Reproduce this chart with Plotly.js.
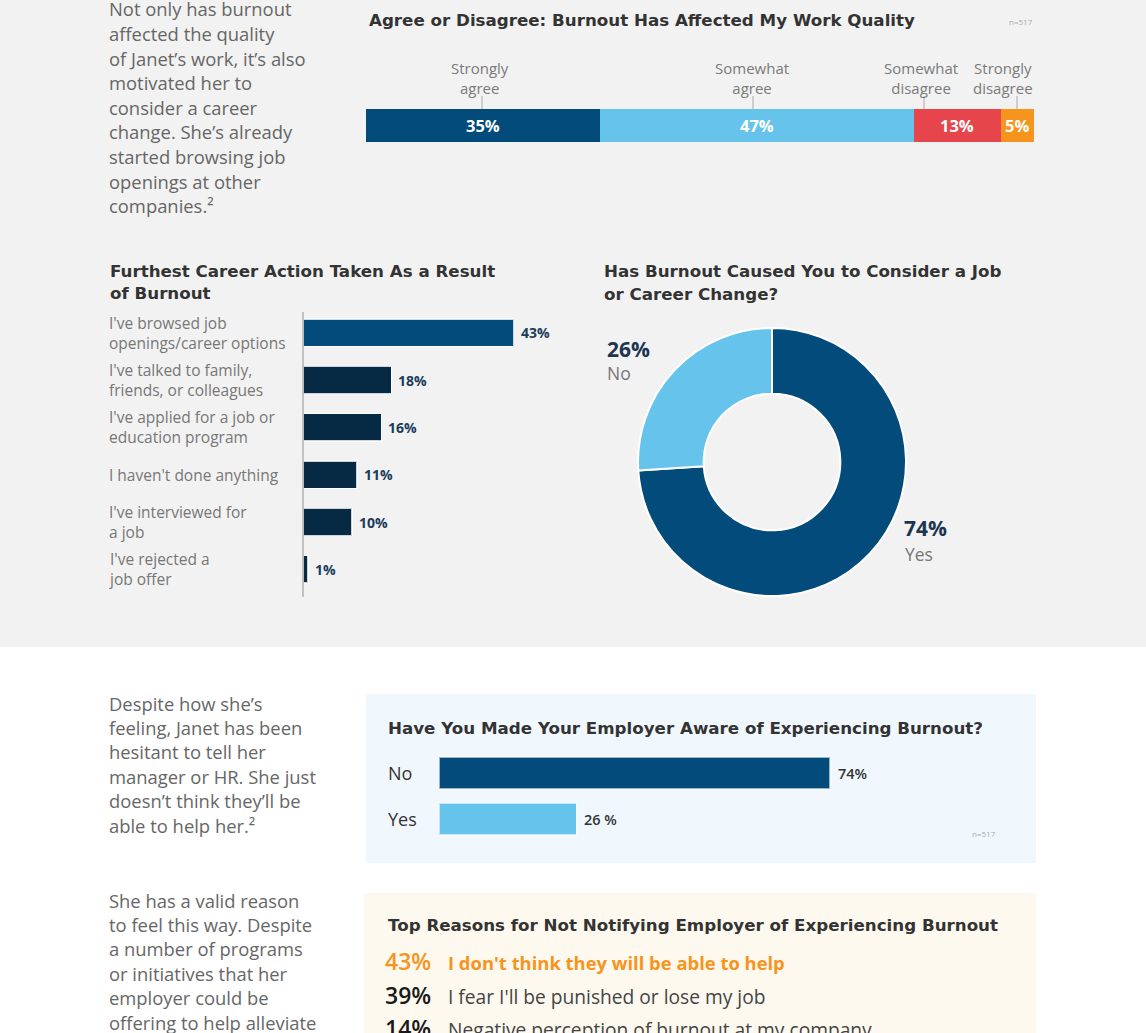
<!DOCTYPE html>
<html>
<head>
<meta charset="utf-8">
<script src="https://cdn.plot.ly/plotly-3.0.1.min.js"></script>
<style>html,body{margin:0;padding:0;background:#fff;}#chart{width:1146px;height:1033px;}</style>
</head>
<body>
<div id="chart"></div>
<script>
// ---------- DATA ----------
const qualityCategories = ["Strongly<br>agree", "Somewhat<br>agree", "Somewhat<br>disagree", "Strongly<br>disagree"];
const qualityValues = [35, 47, 13, 5];

const actionCategories = [
  "I've browsed job<br>openings/career options",
  "I've talked to family,<br>friends, or colleagues",
  "I've applied for a job or<br>education program",
  "I haven't done anything",
  "I've interviewed for<br>a job",
  "I've rejected a<br>job offer"
];
const actionValues = [43, 18, 16, 11, 10, 1];

const changeLabels = ["Yes", "No"];
const changeValues = [74, 26];

const awareCategories = ["No", "Yes"];
const awareValues = [74, 26];
const awareTextLabels = ["74%", "26 %"];

const reasonValues = [43, 39, 14];
const reasonLabels = [
  "I don't think they will be able to help",
  "I fear I'll be punished or lose my job",
  "Negative perception of burnout at my company"
];

const para1 = ["Not only has burnout", "affected the quality", "of Janet\u2019s work, it\u2019s also", "motivated her to", "consider a career", "change. She\u2019s already", "started browsing job", "openings at other", "companies.\u00B2"];
const para2 = ["Despite how she\u2019s", "feeling, Janet has been", "hesitant to tell her", "manager or HR. She just", "doesn\u2019t think they\u2019ll be", "able to help her.\u00B2"];
const para3 = ["She has a valid reason", "to feel this way. Despite", "a number of programs", "or initiatives that her", "employer could be", "offering to help alleviate"];

// ---------- LAYOUT HELPERS ----------
const W = 1146, H = 1033;
const px = x => x / W;
const py = y => 1 - y / H;
const FONT = "Open Sans, Noto Sans, sans-serif";
const TFONT = "DejaVu Sans, Open Sans, sans-serif";
const DARK = "#024b7a", LIGHT = "#66c4ec", RED = "#e5454b", ORANGE = "#f7941d", NAVY = "#072a44";
const TITLE_C = "#333333", BODY_C = "#666666";

const traces = [];
const annotations = [];
const shapes = [];

// backgrounds
shapes.push({type: "rect", xref: "paper", yref: "paper", x0: 0, x1: 1, y0: py(647), y1: 1, fillcolor: "#f2f2f2", line: {width: 0}, layer: "below"});
shapes.push({type: "rect", xref: "paper", yref: "paper", x0: px(366), x1: px(1036), y0: py(863), y1: py(694), fillcolor: "#f0f8fe", line: {width: 0}, layer: "below"});
shapes.push({type: "rect", xref: "paper", yref: "paper", x0: px(364), x1: px(1036), y0: 0, y1: py(893), fillcolor: "#fef9ee", line: {width: 0}, layer: "below"});

function textLine(t, x, y, size, color, weight, anchor, family) {
  annotations.push({text: t, xref: "paper", yref: "paper", x: px(x), y: py(y), xanchor: anchor || "left", yanchor: "middle", showarrow: false,
    font: {family: family || FONT, size: size, color: color, weight: weight || 400}});
}
function title(t, x, y) { textLine(t, x - 2, y, 16.7, TITLE_C, 700, "left", TFONT); }
function paragraph(lines, x, y0, step) {
  lines.forEach((l, i) => textLine(l, x, y0 + i * step, 18.4, BODY_C, 400));
}
paragraph(para1, 107, 9, 24.6);
paragraph(para2, 107, 703, 24.4);
paragraph(para3, 107, 900, 24.4);

// ---------- CHART 1: stacked bar ----------
const qColors = [DARK, LIGHT, RED, ORANGE];
let cum = 0;
const labelPx = [480, 752, 921, 1003];
const tickPx = [482, 753, 924, 1017];
qualityValues.forEach((v, i) => {
  traces.push({type: "bar", orientation: "h", x: [v], y: ["q"], xaxis: "x", yaxis: "y", marker: {color: qColors[i], line: {width: 0}},
    width: 1, hoverinfo: "skip", showlegend: false});
  annotations.push({text: "<b>" + v + "%</b>", xref: "x", yref: "y", x: cum + v / 2, y: "q", showarrow: false,
    font: {family: FONT, size: 16.5, color: "#ffffff"}});
  cum += v;
});
qualityCategories.forEach((c, i) => {
  annotations.push({text: c, xref: "paper", yref: "paper", x: px(labelPx[i]), y: py(78), xanchor: "center", yanchor: "middle", showarrow: false,
    font: {family: FONT, size: 15, color: "#7a7a7a"}});
  shapes.push({type: "line", xref: "paper", yref: "paper", x0: px(tickPx[i]), x1: px(tickPx[i]), y0: py(96), y1: py(109), line: {color: "#aaaaaa", width: 1}});
});
title("Agree or Disagree: Burnout Has Affected My Work Quality", 369, 20);
textLine("n=517", 1035, 22, 8, "#aaaaaa", 400, "right");

// ---------- CHART 2: horizontal bars ----------
traces.push({type: "bar", orientation: "h", x: actionValues, y: actionCategories, xaxis: "x2", yaxis: "y2",
  marker: {color: actionValues.map((v, i) => i === 0 ? DARK : NAVY), line: {color: "rgba(255,255,255,0.8)", width: 1.2}},
  width: 0.58, hoverinfo: "skip", showlegend: false});
actionCategories.forEach((c, i) => {
  annotations.push({text: c, xref: "paper", yref: "y2", x: px(107), y: c, xanchor: "left", yanchor: "middle", align: "left", showarrow: false,
    font: {family: FONT, size: 15.5, color: "#777777"}});
  annotations.push({text: "<b>" + actionValues[i] + "%</b>", xref: "x2", yref: "y2", x: actionValues[i], y: c, xanchor: "left", xshift: 5, showarrow: false,
    font: {family: FONT, size: 14, color: "#1c3d5a"}});
});
shapes.push({type: "line", xref: "paper", yref: "paper", x0: px(303), x1: px(303), y0: py(597), y1: py(312), line: {color: "#b0b0b0", width: 1.5}});
title("Furthest Career Action Taken As a Result", 110, 271);
title("of Burnout", 110, 293);

// ---------- CHART 3: donut ----------
traces.push({type: "pie", labels: changeLabels, values: changeValues, hole: 0.51, sort: false, direction: "clockwise", rotation: 0,
  marker: {colors: [DARK, LIGHT], line: {color: "#ffffff", width: 2}}, textinfo: "none", hoverinfo: "skip", showlegend: false,
  domain: {x: [px(638), px(906)], y: [py(596), py(328)]}});
title("Has Burnout Caused You to Consider a Job", 604, 271);
title("or Career Change?", 604, 294);
textLine("<b>" + changeValues[1] + "%</b>", 605, 349, 21, "#1c3550", 700);
textLine(changeLabels[1], 605, 373, 17.5, "#777777", 400);
textLine("<b>" + changeValues[0] + "%</b>", 902, 528, 21, "#1c3550", 700);
textLine(changeLabels[0], 903, 554, 17.5, "#777777", 400);

// ---------- CHART 4: employer aware ----------
traces.push({type: "bar", orientation: "h", x: awareValues, y: awareCategories, xaxis: "x3", yaxis: "y3",
  marker: {color: [DARK, LIGHT], line: {color: "rgba(255,255,255,0.6)", width: 1.5}}, width: 0.7, hoverinfo: "skip", showlegend: false});
awareCategories.forEach((c, i) => {
  annotations.push({text: c, xref: "paper", yref: "y3", x: px(386), y: c, xanchor: "left", showarrow: false,
    font: {family: FONT, size: 18, color: "#333333"}});
  annotations.push({text: awareTextLabels[i], xref: "x3", yref: "y3", x: awareValues[i], y: c, xanchor: "left", xshift: 6, showarrow: false,
    font: {family: FONT, size: 14.5, color: "#333333", weight: 600}});
});
title("Have You Made Your Employer Aware of Experiencing Burnout?", 388, 728);
textLine("n=517", 998, 833, 8, "#aaaaaa", 400, "right");

// ---------- CHART 5: reasons ----------
title("Top Reasons for Not Notifying Employer of Experiencing Burnout", 388, 925);
const reasonY = [961, 995, 1028];
reasonValues.forEach((v, i) => {
  const first = i === 0;
  textLine(v + "%", 383, reasonY[i], 23, first ? ORANGE : "#1a1a1a", 600);
  textLine(reasonLabels[i], 446, reasonY[i] + 1, first ? 18.4 : 19.2, first ? ORANGE : "#444444", first ? 700 : 400);
});

const noAxis = {showgrid: false, zeroline: false, showticklabels: false, showline: false, ticks: "", fixedrange: true};
const layout = {
  width: W, height: H, margin: {l: 0, r: 0, t: 0, b: 0, pad: 0},
  paper_bgcolor: "#ffffff", plot_bgcolor: "rgba(0,0,0,0)", barmode: "stack", bargap: 0, showlegend: false,
  font: {family: FONT},
  xaxis: Object.assign({}, noAxis, {domain: [px(366), px(1034)], range: [0, 100]}),
  yaxis: Object.assign({}, noAxis, {domain: [py(142), py(109)], range: [-0.5, 0.5], type: "category"}),
  xaxis2: Object.assign({}, noAxis, {domain: [px(303), px(560)], range: [0, 52.45], anchor: "y2"}),
  yaxis2: Object.assign({}, noAxis, {domain: [py(593), py(309)], autorange: "reversed", type: "category", anchor: "x2"}),
  xaxis3: Object.assign({}, noAxis, {domain: [px(439), px(967)], range: [0, 100], anchor: "y3"}),
  yaxis3: Object.assign({}, noAxis, {domain: [py(842), py(750)], autorange: "reversed", type: "category", anchor: "x3"}),
  shapes: shapes, annotations: annotations
};
Plotly.newPlot("chart", traces, layout, {staticPlot: true, displayModeBar: false});
</script>
</body>
</html>
